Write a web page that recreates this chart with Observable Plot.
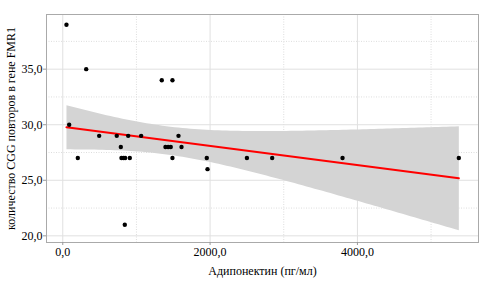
<!DOCTYPE html>
<html>
<head>
<meta charset="utf-8">
<script src="https://cdn.jsdelivr.net/npm/d3@7"></script>
<script src="https://cdn.jsdelivr.net/npm/@observablehq/plot@0.6"></script>
<style>
  body { margin: 0; background: #fff; }
  svg { font-family: "Liberation Serif", serif; }
</style>
</head>
<body>
<div id="chart"></div>
<script>
const adiponectin = [50, 87, 204, 318, 494, 733, 788, 797, 824, 847, 842, 888, 910, 1064, 1344, 1394, 1430, 1466, 1489, 1489, 1571, 1612, 1955, 1965, 2500, 2843, 3798, 5377];
const cgg = [39, 30, 27, 35, 29, 29, 28, 27, 27, 27, 21, 29, 27, 29, 34, 28, 28, 28, 34, 27, 29, 28, 27, 26, 27, 27, 27, 27];
const xTicks = [0, 2000, 4000];
const xMinor = [1000, 3000, 5000];
const yTicks = [20, 25, 30, 35];
const yMinor = [22.5, 27.5, 32.5, 37.5];

const data = adiponectin.map((a, i) => ({a, c: cgg[i]}));
const fmt = d => d.toFixed(1).replace(".", ",");

const chart = Plot.plot({
  width: 483,
  height: 284,
  marginTop: 14,
  marginBottom: 42,
  marginLeft: 46,
  marginRight: 5,
  style: {fontFamily: "Liberation Serif, serif", fontSize: "12px", color: "#000", background: "#fff"},
  x: {domain: [-221, 5644]},
  y: {domain: [19.4, 39.92]},
  marks: [
    Plot.ruleX(xMinor, {stroke: "#ddd", strokeDasharray: "1,1.5", strokeWidth: 1}),
    Plot.ruleY(yMinor, {stroke: "#ddd", strokeDasharray: "1,1.5", strokeWidth: 1}),
    Plot.ruleX(xTicks, {stroke: "#e0e0e0", strokeWidth: 1}),
    Plot.ruleY(yTicks, {stroke: "#e0e0e0", strokeWidth: 1}),
    Plot.frame({stroke: "#aaa"}),
    Plot.axisX(xTicks, {tickFormat: fmt, tickSize: 3, tickPadding: 2, stroke: "#999", fontSize: 12,
      label: "Адипонектин (пг/мл)", labelAnchor: "center", labelArrow: "none", labelOffset: 32}),
    Plot.axisY(yTicks, {tickFormat: fmt, tickSize: 3, tickPadding: 1, stroke: "#999", fontSize: 12,
      label: "количество CGG повторов в гене FMR1", labelAnchor: "center", labelArrow: "none", labelOffset: 40}),
    Plot.linearRegressionY(data, {x: "a", y: "c", stroke: "#ff0000", strokeWidth: 2, fill: "#d4d4d4", fillOpacity: 1}),
    Plot.dot(data, {x: "a", y: "c", r: 2.2, fill: "#000", stroke: "none"})
  ]
});
document.getElementById("chart").appendChild(chart);
</script>
</body>
</html>
